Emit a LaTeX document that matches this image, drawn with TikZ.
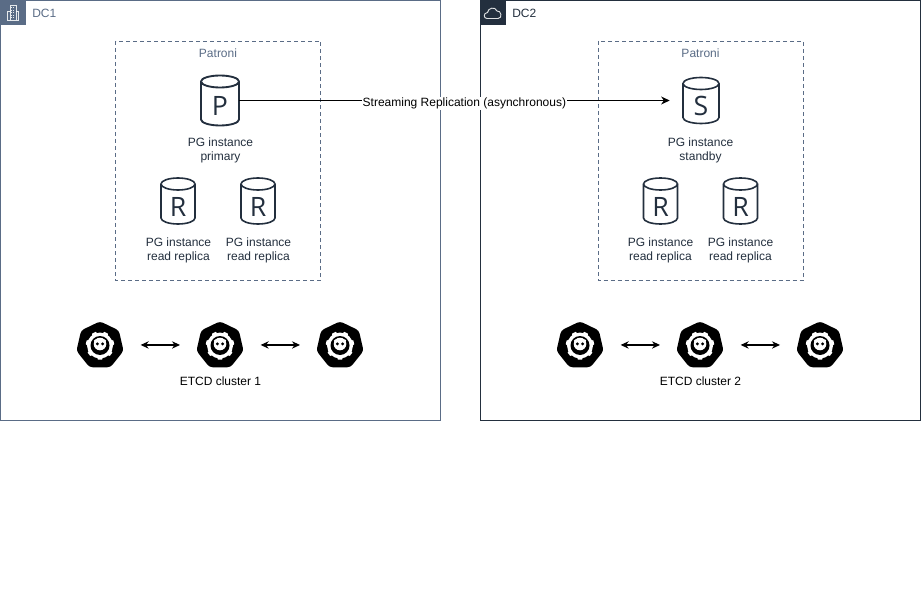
\documentclass[tikz,border=0pt]{standalone}
\usepackage{fontspec}
\setmainfont{Liberation Sans}
\usetikzlibrary{arrows.meta,shapes.geometric}
\definecolor{grpA}{HTML}{5A6C86}
\definecolor{grpB}{HTML}{232F3E}
\tikzset{
  x=0.75pt,y=-0.75pt,
  dc/.style={draw=#1,line width=0.75pt,fill=white},
  patroni/.style={draw=grpA,dashed,dash pattern=on 3pt off 2.25pt,line width=0.6pt},
  lbl/.style={font=\fontsize{9pt}{10.5pt}\selectfont,text=#1,align=center,inner sep=0pt},
  dbline/.style={draw=grpB,line width=1.2pt,fill=white},
  link/.style={draw=black,line width=0.8pt,{Stealth[length=6pt,width=5.5pt]}-{Stealth[length=6pt,width=5.5pt]}},
  rep/.style={draw=black,line width=0.75pt,-{Stealth[length=6.5pt,width=6pt]}},
  anchorbox/.style={minimum width=#1*0.75pt,minimum height=#1*0.75pt,inner sep=0pt}
}
% cylinder: #1 name, #2 cx, #3 cy, #4 half width, #5 half height, #6 letter, #7 font size, #8 line width
\newcommand{\dbicon}[8]{%
  \node[anchorbox=1,minimum width=#4*1.5pt,minimum height=#5*1.5pt] (#1) at (#2,#3) {};
  \begin{scope}[shift={(#2,#3)}]
    \draw[dbline,line width=#8] (-#4,-#5+6) -- (-#4,#5-6) arc[start angle=180,end angle=0,x radius=#4,y radius=6]
       -- (#4,-#5+6) arc[start angle=0,end angle=-180,x radius=#4,y radius=6] -- cycle;
    \draw[dbline,line width=#8] (-#4,-#5+6) arc[start angle=180,end angle=0,x radius=#4,y radius=6];
    \node[inner sep=0pt,text=grpB,font=\fontsize{#7}{#7}\selectfont\fontspec{Open Sans}] at (0,5.5) {#6};
  \end{scope}}
% etcd icon
\newcommand{\etcdicon}[3]{%
  \node[regular polygon,regular polygon sides=7,fill=black,draw=black,line width=2pt,rounded corners=2pt,minimum size=34pt,inner sep=0pt] (#1) at (#2,#3) {};
  \begin{scope}[shift={(#2,#3)}]
    \foreach \a in {90,141.4,192.8,244.3,295.7,347.1,38.6}
      \fill[white] (\a-13:12.5) -- (\a-8:14.3) -- (\a+8:14.3) -- (\a+13:12.5) -- cycle;
    \fill[white] (0,0) circle[radius=13];
    \fill[black] (0,0) circle[radius=9.5];
    \fill[white] (0,-1.5) circle[radius=6.3];
    \fill[white] (-4.8,-4.8) circle[radius=1.4];
    \fill[white] (4.8,-4.8) circle[radius=1.4];
    \fill[black] (-2.6,-1.6) circle[radius=1.6];
    \fill[black] (2.6,-1.6) circle[radius=1.6];
  \end{scope}}
\begin{document}
\begin{tikzpicture}
\useasboundingbox (0,0) rectangle (921,599);
\fill[white] (0,0) rectangle (921,599);
% groups
\draw[dc=grpA] (0.5,0.5) rectangle (440.5,420.5);
\draw[dc=grpB] (480.5,0.5) rectangle (920.5,420.5);
\fill[grpA] (0,0) rectangle (25.5,25.5);
\fill[grpB] (480,0) rectangle (505.5,25.5);
% building icon
\begin{scope}[draw=white,line width=0.5pt,opacity=.85]
  \draw (7.5,20.5) -- (7.5,11) -- (10,11) -- (10,5) -- (16,5) -- (16,11) -- (18.5,11) -- (18.5,20.5) -- cycle;
  \draw (10,11) -- (10,20.5) (16,11) -- (16,20.5);
  \foreach \yy in {7.5,10,12.5,15,17.5}
    \draw[densely dotted] (11,\yy) -- (15,\yy);
\end{scope}
% cloud icon
\draw[white,line width=0.7pt,opacity=.85] (487,18.5) .. controls (483.5,18.5) and (483,13) .. (487.5,12.5)
  .. controls (488,8) and (495,6) .. (497,11) .. controls (501,10) and (503,18.5) .. (498,18.5) -- cycle;
\node[lbl=grpA,anchor=west] (t1) at (32,13) {DC1};
\node[lbl=grpB,anchor=west] (t2) at (512,13) {DC2};
% patroni
\draw[patroni] (115.5,41) rectangle (320.5,280.5);
\draw[patroni] (598,41) rectangle (803,280.5);
\node[lbl=grpA] (pa) at (218,53) {Patroni};
\node[lbl=grpA] (pb) at (700.5,53) {Patroni};
% cylinders
\dbicon{P}{220}{100.5}{19}{25}{P}{20pt}{1.4pt}
\dbicon{R1}{178}{201}{17}{23}{R}{20pt}{1.2pt}
\dbicon{R2}{258}{201}{17}{23}{R}{20pt}{1.2pt}
\dbicon{S}{701}{100.5}{18}{23}{S}{20pt}{1.2pt}
\dbicon{R3}{660.5}{201}{17}{23}{R}{20pt}{1.2pt}
\dbicon{R4}{740.5}{201}{17}{23}{R}{20pt}{1.2pt}
% labels
\node[lbl=grpB] (lP) at (220.5,150) {PG instance\\primary};
\node[lbl=grpB] (lR1) at (178.5,250.5) {PG instance\\read replica};
\node[lbl=grpB] (lR2) at (258.5,250.5) {PG instance\\read replica};
\node[lbl=grpB] (lS) at (700.5,150.5) {PG instance\\standby};
\node[lbl=grpB] (lR3) at (660.5,250.5) {PG instance\\read replica};
\node[lbl=grpB] (lR4) at (740.5,250.5) {PG instance\\read replica};
% etcd
\etcdicon{e1}{100}{345.5}
\etcdicon{e2}{220}{345.5}
\etcdicon{e3}{340}{345.5}
\etcdicon{e4}{580}{345.5}
\etcdicon{e5}{700}{345.5}
\etcdicon{e6}{820}{345.5}
\node[lbl=black] (c1) at (220.5,381) {ETCD cluster 1};
\node[lbl=black] (c2) at (700.5,381) {ETCD cluster 2};
\draw[link] ([xshift=30.5pt,yshift=0.4pt]e1.center) -- ([xshift=-30pt,yshift=0.4pt]e2.center);
\draw[link] ([xshift=30.5pt,yshift=0.4pt]e2.center) -- ([xshift=-30pt,yshift=0.4pt]e3.center);
\draw[link] ([xshift=30.5pt,yshift=0.4pt]e4.center) -- ([xshift=-30pt,yshift=0.4pt]e5.center);
\draw[link] ([xshift=30.5pt,yshift=0.4pt]e5.center) -- ([xshift=-30pt,yshift=0.4pt]e6.center);
% replication
\draw[rep] (P.east) -- node[pos=0.523,yshift=-2pt,lbl=black,fill=white,inner sep=0.8pt] (sr) {Streaming Replication (asynchronous)} ([xshift=-9.75pt]S.west);
\end{tikzpicture}
\end{document}
